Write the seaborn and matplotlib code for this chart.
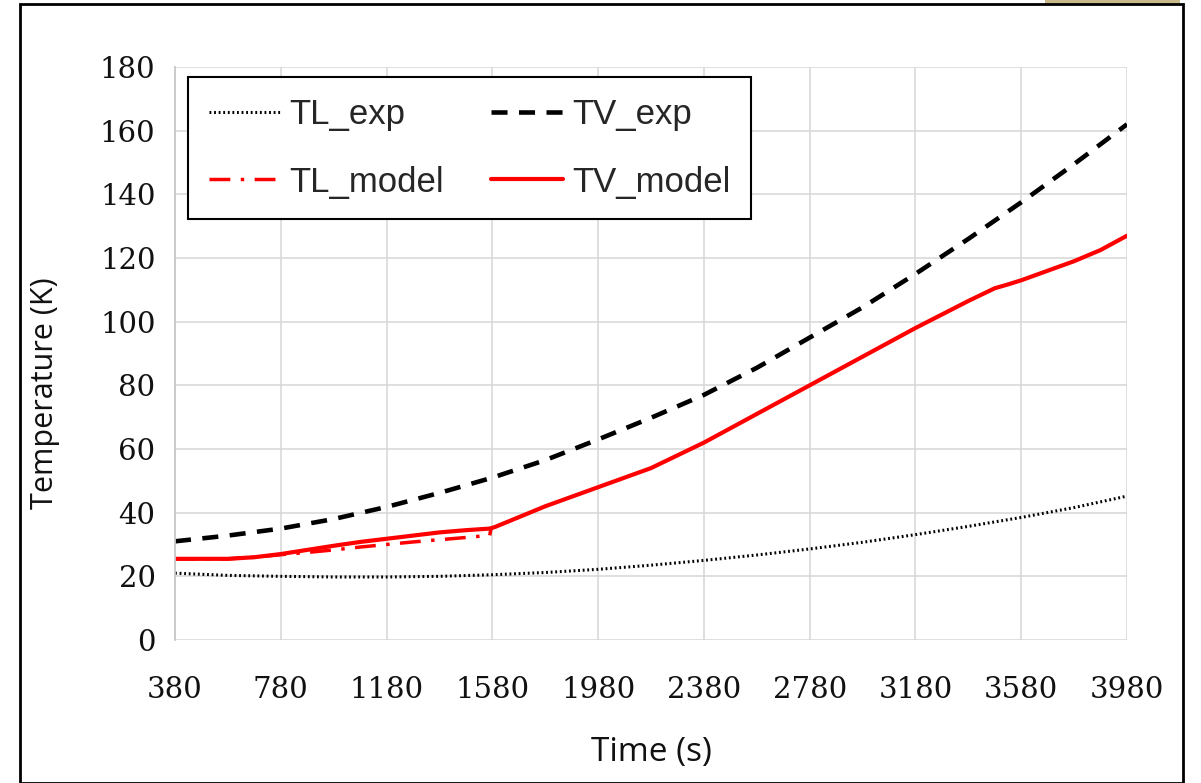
import numpy as np
import pandas as pd
import seaborn as sns
import matplotlib
matplotlib.use("Agg")
import matplotlib.pyplot as plt
from matplotlib.patches import Rectangle

# ---- data ----
t_exp = [380, 580, 780, 980, 1180, 1380, 1580, 1780, 1980, 2180, 2380, 2580, 2780,
         2980, 3180, 3380, 3580, 3780, 3980]
tl_exp = [21.0, 20.3, 20.0, 19.8, 19.8, 20.0, 20.5, 21.2, 22.2, 23.5, 25.0, 26.7, 28.6,
          30.7, 33.1, 35.7, 38.5, 41.6, 45.2]
tv_exp = [31.0, 32.8, 35.0, 38.0, 41.8, 46.2, 51.0, 56.5, 63.0, 69.8, 77.0, 85.5, 95.0,
          104.5, 115.0, 126.0, 137.5, 149.5, 162.0]

t_tv_model = [380, 480, 580, 680, 780, 880, 980, 1080, 1180, 1280, 1380, 1480, 1570,
              1590, 1780, 1980, 2180, 2380, 2580, 2780, 2980, 3180, 3380, 3480,
              3530, 3580, 3680, 3780, 3880, 3980]
tv_model = [25.5, 25.5, 25.5, 26.0, 27.0, 28.3, 29.6, 30.8, 31.8, 32.8, 33.8, 34.5, 35.0,
            35.5, 42.0, 48.0, 54.0, 62.0, 71.0, 80.0, 89.0, 98.0, 106.5, 110.5,
            111.7, 113.0, 116.0, 119.0, 122.5, 127.0]

t_tl_model = [380, 480, 580, 680, 780, 880, 980, 1080, 1180, 1280, 1380, 1480, 1560,
              1570, 1575]
tl_model = [25.5, 25.5, 25.5, 26.0, 26.8, 27.5, 28.3, 29.2, 30.0, 30.8, 31.5, 32.2, 32.8,
            32.8, 35.0]

x_ticks = [380, 780, 1180, 1580, 1980, 2380, 2780, 3180, 3580, 3980]
y_ticks = [0, 20, 40, 60, 80, 100, 120, 140, 160, 180]

sns.set_theme(style="white")
plt.rcParams['font.family'] = ['DejaVu Serif']

fig = plt.figure(figsize=(12.01, 7.83), dpi=100)
ax = fig.add_axes([175/1201, 1 - 640/783, (1127-175)/1201, (640-67)/783])

d_tl_exp = pd.DataFrame({"t": t_exp, "T": tl_exp})
d_tv_exp = pd.DataFrame({"t": t_exp, "T": tv_exp})
d_tl_mod = pd.DataFrame({"t": t_tl_model, "T": tl_model})
d_tv_mod = pd.DataFrame({"t": t_tv_model, "T": tv_model})

sns.lineplot(data=d_tl_exp, x="t", y="T", ax=ax, color="black", lw=2.2,
             linestyle=(0, (0.6, 0.9)), label="TL_exp", sort=False)
sns.lineplot(data=d_tv_exp, x="t", y="T", ax=ax, color="black", lw=3.3,
             linestyle=(0, (3.5, 2.5)), label="TV_exp", sort=False)
sns.lineplot(data=d_tl_mod, x="t", y="T", ax=ax, color="#ff0000", lw=2.5,
             linestyle=(0, (6, 3, 1, 3)), label="TL_model", sort=False)
sns.lineplot(data=d_tv_mod, x="t", y="T", ax=ax, color="#ff0000", lw=3,
             linestyle="-", label="TV_model", sort=False)

ax.set_xlim(380, 3980)
ax.set_ylim(0, 180)
ax.set_xticks(x_ticks)
ax.set_yticks(y_ticks)
ax.set_xticklabels([str(v) for v in x_ticks], fontsize=21, color="#111111")
ax.set_yticklabels([str(v) for v in y_ticks], fontsize=21, color="#111111")
ax.tick_params(axis="x", pad=26, length=0)
ax.tick_params(axis="y", pad=14, length=0)
ax.grid(True, color="#d6d6d6", lw=1.1, linestyle="-")
for s in ax.spines.values():
    s.set_visible(False)
ax.spines["left"].set_visible(True)
ax.spines["left"].set_color("#c8c8c8")
ax.spines["left"].set_linewidth(1.3)

ax.set_xlabel("Time (s)", fontsize=24, family=["Open Sans", "DejaVu Sans"],
              labelpad=23, color="#111111")
ax.set_ylabel("Temperature (K)", fontsize=22, family=["Open Sans", "DejaVu Sans"],
              color="#111111")
ax.yaxis.set_label_coords(-0.121, 0.43)

handles, labels = ax.get_legend_handles_labels()
order = [0, 2, 1, 3]
leg = ax.legend([handles[i] for i in order], [labels[i] for i in order],
                loc="upper left", bbox_to_anchor=(13/952, 1 - 10/573), borderaxespad=0,
                ncol=2, frameon=True,
                fancybox=False, edgecolor="black", framealpha=1,
                prop={"family": ["Liberation Sans", "DejaVu Sans"], "size": 25},
                handlelength=2.07, handletextpad=0.26, columnspacing=1.35,
                borderpad=0.6, labelspacing=1.0)
leg.get_frame().set_linewidth(1.5)

# figure frame
fig.patches.append(Rectangle((20/1201, 0), (1183-20)/1201, (783-4)/783,
                             transform=fig.transFigure, fill=False,
                             edgecolor="black", lw=2, zorder=10))
fig.patches.append(Rectangle((1045/1201, 1 - 5/783), (1180-1045)/1201, 5/783,
                             transform=fig.transFigure, facecolor="#c8b98a",
                             edgecolor="none", zorder=9))

fig.savefig("out.png", dpi=100)
